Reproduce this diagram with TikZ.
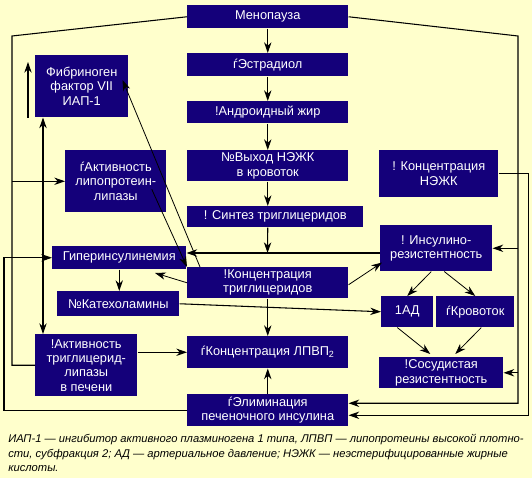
\documentclass[tikz,border=0pt]{standalone}
\usepackage{fontspec}
\setmainfont{Liberation Sans}
\usetikzlibrary{arrows.meta,calc}
\definecolor{bgyellow}{RGB}{255,255,204}
\definecolor{boxblue}{RGB}{20,0,122}

\begin{document}
\begin{tikzpicture}[x=0.75pt,y=0.75pt,yscale=-1,
  blk/.style 2 args={anchor=north west, fill=boxblue, text=white, align=center, inner sep=0pt,
    font=\fontsize{9.6}{10.7}\selectfont, minimum width=#1*0.75pt, minimum height=#2*0.75pt},
  lnk/.style={line width=0.8pt},
  arr/.style={lnk, -{Stealth[length=8pt,width=5.5pt,inset=2.5pt]}},
  slnt/.style={line width=0.6pt, -{Stealth[length=8pt,width=5.5pt,inset=2.5pt]}}]
%set diagram left start at 0, and has height of 478
\fill[bgyellow] (0,0) rectangle (532,478);

%Shape: Rectangle -- centre column
\node[blk={161}{23}] (meno) at (187,5) {Менопауза};
\node[blk={161}{23}] (estr) at (187,53) {ѓЭстрадиол};
\node[blk={161}{22}] (andr) at (187,101) {!Андроидный жир};
\node[blk={161}{31}] (nefa) at (187,150) {№Выход НЭЖК\\в кровоток};
\node[blk={176}{21}] (synt) at (187,206) {! Синтез триглицеридов};
\node[blk={161}{31}] (tgc) at (187,267) {!Концентрация\\триглицеридов};
\node[blk={161}{32}] (hdl) at (187,336) {ѓКонцентрация ЛПВП\textsubscript{2}};
\node[blk={161}{32}] (elim) at (187,394) {ѓЭлиминация\\печеночного инсулина};
%Shape: Rectangle -- left column
\node[blk={93}{62}] (fibr) at (35,55) {Фибриноген\\фактор VII\\ИАП-1};
\node[blk={101}{62}] (lpl) at (65,150) {ѓАктивность\\липопротеин-\\липазы};
\node[blk={134}{23}] (hyper) at (52,246) {Гиперинсулинемия};
\node[blk={122}{25}] (cat) at (57,291) {№Катехоламины};
\node[blk={102}{62}] (htgl) at (35,334) {!Активность\\триглицерид-\\липазы\\в печени};
%Shape: Rectangle -- right column
\node[blk={119}{47}] (cnefa) at (379,150) {! Концентрация\\НЭЖК};
\node[blk={112}{46}] (ir) at (380,225) {! Инсулино-\\резистентность};
\node[blk={52}{31}] (bp) at (381,296) {1АД};
\node[blk={78}{31}] (flow) at (436,296) {ѓКровоток};
\node[blk={124}{31}] (vres) at (379,357) {!Сосудистая\\резистентность};

% Text Node
\node[anchor=north west, inner sep=0pt, align=left, font=\itshape\fontsize{8.4}{11}\selectfont] (note) at (8,434)
  {ИАП-1 — ингибитор активного плазминогена 1 типа, ЛПВП — липопротеины высокой плотно-\\
   сти, субфракция 2; АД — артериальное давление; НЭЖК — неэстерифицированные жирные\\
   кислоты.};

%Straight Lines -- centre chain
\coordinate (jn) at (267.5,253);
\draw[arr] (meno) -- (estr);
\draw[arr] (estr) -- (andr);
\draw[arr] (andr) -- (nefa);
\draw[arr] (nefa.south) -- (nefa.south |- synt.north);
\draw[arr] (nefa.south |- synt.south) -- (jn);
\draw[arr] (ir.west |- jn) -- (hyper.east |- jn);
\draw[arr] (tgc) -- (hdl);
\draw[arr] (elim) -- (hdl);
\draw[arr] (htgl.east |- hdl.west) -- (hdl.west);
\draw[arr] (hyper.south) -- (hyper.south |- cat.north);
\draw[arr] (cat.east) -- (bp.west);
%Straight Lines -- slanted ones
\coordinate (hc) at (155,273);
\draw[slnt] (tgc.west) -- (hc);
\draw[slnt] ($(tgc.north west)+(13,0)$) -- ($(fibr.north east)+(-6,25)$);
\draw[slnt] ($(lpl.center)+(36,8)$) -- (tgc.north west);
\draw[slnt] ($(tgc.east)+(0,2)$) -- ($(ir.south west)+(2,-9)$);
\draw[slnt] ($(ir.south)+(-5,0)$) -- (bp.north);
\draw[slnt] ($(ir.south)+(8,0)$) -- (flow.north);
\draw[slnt] ($(bp.south)+(-10,0)$) -- ($(vres.north)+(-11,-3)$);
\draw[slnt] ($(flow.south)+(6,0)$) -- ($(vres.north)+(14,-3)$);
%Straight Lines -- outer loops
\coordinate (lc) at (12,36);
\coordinate (rc) at (518,36);
\coordinate (ht) at (43,257.5);
\draw[lnk] (meno.west) -- (lc) |- (htgl.west);
\draw[arr] (lc |- lpl.west) -- (lpl.west);
\draw[arr] (meno.east) -- (rc) |- ($(elim.east)+(0,-7)$);
\draw[arr] (rc |- ir.east) -- (ir.east);
\draw[arr] (rc |- vres.east) -- (vres.east);
\draw[arr] (cnefa.east) -- ++(30,0) |- ($(elim.east)+(0,5)$);
\draw[arr] (elim.west) -- ++(-183,0) |- (hyper.west);
\draw[arr] (ht) -- (ht |- fibr.south);
\draw[arr] (ht) -- (ht |- htgl.north);
\draw[arr] ($(fibr.south west)+(-7,0)$) -- ($(fibr.north west)+(-7,7)$);

\end{tikzpicture}
\end{document}
